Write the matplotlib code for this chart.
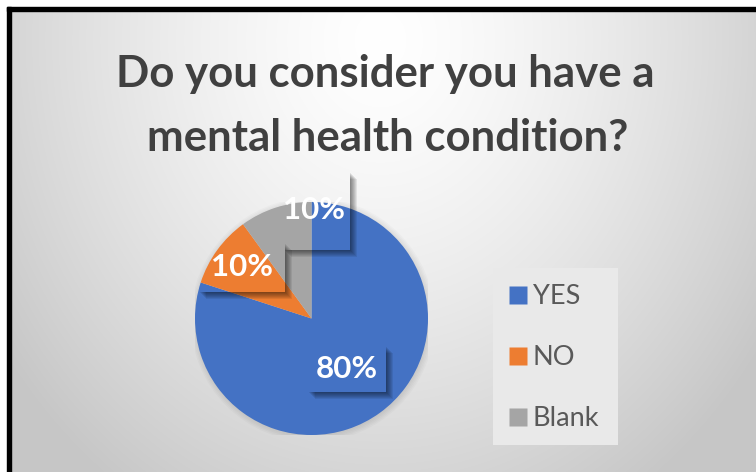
import numpy as np
import matplotlib
matplotlib.use("Agg")
import matplotlib.pyplot as plt
from matplotlib.patches import Rectangle, Polygon, Circle
from matplotlib.lines import Line2D

######################################
# DATA
######################################

categories = ["YES", "NO", "Blank"]
shares = [80, 10, 10]
slice_colors = ["#4472C4", "#ED7D31", "#A5A5A5"]
title_lines = ["Do you consider you have a", "mental health condition?"]

######################################
# LAYOUT (pixels)
######################################

W, H = 756, 472
cx, cy, R = 311.5, 318.5, 116.5

# data label centres and their boxes, in pie units (radius = 1)
label_pos = [(0.305, -0.433), (-0.597, 0.442), (0.021, 0.931)]
label_box = [(-0.030, 0.639, -0.631, -0.236),
             (-0.966, -0.227, 0.227, 0.648),
             (-0.240, 0.330, 0.588, 1.258)]


def box_shadow(ax, x0, x1, y0, y1, size=0.06, steps=7):
    # soft L-shaped drop shadow to the lower right of a box
    for k in range(1, steps + 1):
        o = size * k / steps
        pts = [(x1, y1 - o), (x1 + o, y1 - o), (x1 + o, y0 - o),
               (x0 + o, y0 - o), (x0 + o, y0), (x1, y0)]
        ax.add_patch(Polygon(pts, closed=True, facecolor="black",
                             edgecolor="none", alpha=0.08, zorder=4,
                             clip_on=False))


fig = plt.figure(figsize=(W / 100, H / 100), dpi=100)
fig.patch.set_facecolor("white")

# background with radial grey gradient and the black frame lines
bg = fig.add_axes([0, 0, 1, 1])
yy, xx = np.mgrid[7:H, 7:W]
d = np.sqrt(((xx - 380) / 460) ** 2 + ((yy - 40) / 540) ** 2)
shade = 1 - 0.22 * np.clip(d, 0, 1) ** 1.4
bg.imshow(np.dstack([shade] * 3), extent=(7, W, H, 7), aspect="auto",
          interpolation="bilinear")
bg.add_patch(Rectangle((7, 7), W, 4, color="black"))
bg.add_patch(Rectangle((7, 7), 4, H, color="black"))
bg.add_patch(Rectangle((493, 268), 125, 177, facecolor="#e9e9e9",
                       edgecolor="none"))
bg.set_xlim(0, W)
bg.set_ylim(H, 0)
bg.axis("off")

# title
fig.text(385 / W, 1 - 87 / H, title_lines[0], ha="center", va="baseline",
         fontsize=31.5, fontweight="bold", family="Lato", color="#404040")
fig.text(388 / W, 1 - 151 / H, title_lines[1], ha="center", va="baseline",
         fontsize=31.5, fontweight="bold", family="Lato", color="#404040")

# pie
ax = fig.add_axes([(cx - R) / W, (H - cy - R) / H, 2 * R / W, 2 * R / H])
ax.patch.set_alpha(0)
for k in range(5):
    ax.add_patch(Circle((0.01, -0.01), 1 + 0.012 * k, facecolor="black",
                        edgecolor="none", alpha=0.02, zorder=0))
wedges, texts, autotexts = ax.pie(
    shares, colors=slice_colors, startangle=90, counterclock=False,
    radius=1, autopct=lambda p: f"{p:.0f}%",
    wedgeprops=dict(linewidth=0, zorder=2),
    textprops=dict(color="white", fontsize=22.5, fontweight="bold",
                   family="Lato"))
for t, (x, y), (x0, x1, y0, y1) in zip(autotexts, label_pos, label_box):
    t.set_position((x, y))
    t.set_ha("center")
    t.set_va("center")
    t.set_zorder(5)
    t.set_clip_on(False)
    box_shadow(ax, x0, x1, y0, y1)
ax.set_xlim(-1, 1)
ax.set_ylim(-1, 1)
ax.set_aspect("equal")
ax.axis("off")

# legend
handles = [Line2D([], [], marker="s", linestyle="none", markersize=12.5,
                  markerfacecolor=c, markeredgecolor="none")
           for c in slice_colors]
fig.legend(handles, categories, loc="upper left",
           bbox_to_anchor=(509 / W, 1 - 284 / H), frameon=False,
           prop=dict(family="Lato", size=19.5), labelcolor="#595959",
           labelspacing=1.33, handlelength=0.65, handletextpad=0.22,
           borderpad=0, borderaxespad=0)

fig.savefig("out.png", dpi=100)
